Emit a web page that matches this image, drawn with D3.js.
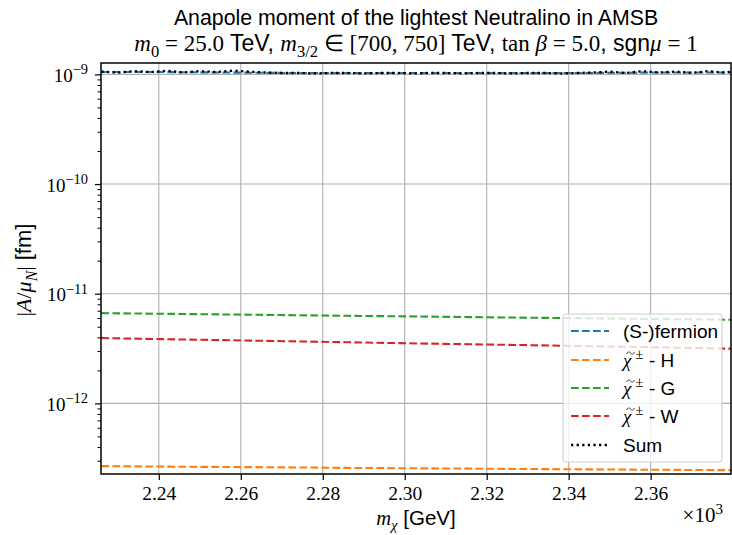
<!DOCTYPE html>
<html>
<head>
<meta charset="utf-8">
<script src="https://cdn.jsdelivr.net/npm/d3@7"></script>
<style>
  body { margin: 0; background: #fff; }
  text { white-space: pre; }
</style>
</head>
<body>
<svg id="chart" width="732" height="535"></svg>
<script>
// smooth contributions, sampled on a coarse grid (GeV)
const mChi = [2226, 2241, 2256, 2271, 2286, 2301, 2316, 2331, 2346, 2361, 2380];
const fermion = [1.05e-9, 1.05e-9, 1.04e-9, 1.03e-9, 1.03e-9, 1.03e-9, 1.03e-9, 1.03e-9, 1.03e-9, 1.04e-9, 1.04e-9];
const charginoH = [2.68e-13, 2.65e-13, 2.63e-13, 2.61e-13, 2.58e-13, 2.56e-13, 2.54e-13, 2.52e-13, 2.50e-13, 2.48e-13, 2.46e-13];
const charginoG = [6.65e-12, 6.56e-12, 6.47e-12, 6.38e-12, 6.29e-12, 6.21e-12, 6.12e-12, 6.04e-12, 5.96e-12, 5.88e-12, 5.78e-12];
const charginoW = [3.94e-12, 3.85e-12, 3.77e-12, 3.69e-12, 3.61e-12, 3.53e-12, 3.46e-12, 3.39e-12, 3.32e-12, 3.25e-12, 3.15e-12];

// the sum is noisier, finer grid
const sumMChi = [2226, 2230, 2234, 2238, 2242, 2246, 2250, 2254, 2258, 2262,
                 2266, 2270, 2274, 2278, 2282, 2286, 2290, 2294, 2298, 2302,
                 2306, 2310, 2314, 2318, 2322, 2326, 2330, 2334, 2338, 2342,
                 2346, 2350, 2354, 2358, 2362, 2366, 2370, 2374, 2378, 2380];
const sumVals = [1.06e-9, 1.04e-9, 1.07e-9, 1.05e-9, 1.08e-9, 1.04e-9, 1.07e-9, 1.05e-9, 1.08e-9, 1.06e-9,
                 1.04e-9, 1.03e-9, 1.03e-9, 1.02e-9, 1.03e-9, 1.03e-9, 1.02e-9, 1.03e-9, 1.03e-9, 1.02e-9,
                 1.03e-9, 1.03e-9, 1.02e-9, 1.03e-9, 1.03e-9, 1.02e-9, 1.03e-9, 1.03e-9, 1.02e-9, 1.03e-9,
                 1.04e-9, 1.06e-9, 1.03e-9, 1.07e-9, 1.04e-9, 1.06e-9, 1.03e-9, 1.07e-9, 1.04e-9, 1.06e-9];

const xTicks = [2240, 2260, 2280, 2300, 2320, 2340, 2360];
const yTicks = [1e-12, 1e-11, 1e-10, 1e-9];
const yTickExp = ["\u221212", "\u221211", "\u221210", "\u22129"];

const RM = "'Liberation Serif', serif";
const SF = "'Liberation Sans', sans-serif";

window.addEventListener('load', () => {
    draw()
})

// parts: [text, font, pos, dx]  font: rm | it | sf, pos: '' | sub | sup
function richText(sel, parts, size, supScale) {
    let shift = 0;
    const sc = supScale || 0.72;
    parts.forEach(p => {
        const pos = p[2] || '';
        let target = 0;
        if (pos === 'sub') target = 0.25 * size;
        if (pos === 'sup') target = -0.4 * size;
        const ts = sel.append('tspan')
            .attr('dy', target - shift)
            .attr('font-family', p[1] === 'sf' ? SF : RM)
            .attr('font-style', p[1] === 'it' ? 'italic' : 'normal')
            .attr('font-size', pos ? size * sc : size)
            .text(p[0]);
        if (p[3]) ts.attr('dx', p[3]);
        shift = target;
    });
}

function draw() {
    const svg = d3.select('#chart');
    const left = 101, right = 731, top = 63, bottom = 474;

    const x = d3.scaleLinear().domain([2225.9, 2379.6]).range([left, right]);
    const y = d3.scaleLog().domain([2.27e-13, 1.27e-9]).range([bottom, top]);

    svg.append('clipPath').attr('id', 'clip')
        .append('rect').attr('x', left).attr('y', top)
        .attr('width', right - left).attr('height', bottom - top);

    // grid
    const grid = svg.append('g').attr('stroke', '#b0b0b0').attr('stroke-width', 1.1);
    xTicks.forEach(t => {
        grid.append('line').attr('x1', x(t)).attr('x2', x(t)).attr('y1', top).attr('y2', bottom);
    });
    yTicks.forEach(t => {
        grid.append('line').attr('x1', left).attr('x2', right).attr('y1', y(t)).attr('y2', y(t));
    });

    // lines
    const series = [
        {xs: mChi, ys: fermion, color: '#1f77b4', dash: '7.7,3.3', w: 2.1},
        {xs: mChi, ys: charginoH, color: '#ff7f0e', dash: '7.7,3.3', w: 2.1},
        {xs: mChi, ys: charginoG, color: '#2ca02c', dash: '7.7,3.3', w: 2.1},
        {xs: mChi, ys: charginoW, color: '#d62728', dash: '7.7,3.3', w: 2.1},
        {xs: sumMChi, ys: sumVals, color: '#000', dash: '2.3,3.3', w: 2.3}
    ];
    const line = d3.line().x(d => x(d[0])).y(d => y(d[1]));
    const plot = svg.append('g').attr('clip-path', 'url(#clip)');
    series.forEach(s => {
        plot.append('path')
            .attr('d', line(s.xs.map((v, i) => [v, s.ys[i]])))
            .attr('fill', 'none')
            .attr('stroke', s.color)
            .attr('stroke-width', s.w)
            .attr('stroke-dasharray', s.dash);
    });

    // axes
    const xAxis = svg.append('g').attr('transform', `translate(0,${bottom})`)
        .call(d3.axisBottom(x).tickValues(xTicks).tickSize(6).tickPadding(6)
            .tickFormat(d => (d / 1000).toFixed(2)));
    xAxis.select('.domain').remove();
    xAxis.selectAll('line').attr('stroke-width', 1.2);
    xAxis.selectAll('text').attr('font-family', RM).attr('font-size', 19.5).attr('fill', '#000');

    const minor = [];
    for (let e = -13; e <= -9; e++) {
        for (let k = 2; k <= 9; k++) {
            const v = k * Math.pow(10, e);
            if (v >= 2.27e-13 && v <= 1.27e-9) minor.push(v);
        }
    }
    const yMinor = svg.append('g').attr('transform', `translate(${left},0)`)
        .call(d3.axisLeft(y).tickValues(minor).tickSize(3.5).tickFormat(''));
    yMinor.select('.domain').remove();
    yMinor.selectAll('line').attr('stroke-width', 1);

    const yAxis = svg.append('g').attr('transform', `translate(${left},0)`)
        .call(d3.axisLeft(y).tickValues(yTicks).tickSize(6).tickFormat(''));
    yAxis.select('.domain').remove();
    yAxis.selectAll('line').attr('stroke-width', 1.2);
    yTicks.forEach((t, i) => {
        const tx = svg.append('text').attr('x', left - 13).attr('y', y(t) + 7.5)
            .attr('text-anchor', 'end').attr('fill', '#000');
        richText(tx, [['10', 'rm'], [yTickExp[i], 'rm', 'sup']], 19, 0.76);
    });

    // frame
    svg.append('rect').attr('x', left).attr('y', top)
        .attr('width', right - left).attr('height', bottom - top)
        .attr('fill', 'none').attr('stroke', '#000').attr('stroke-width', 1.5);

    // titles
    const mid = (left + right) / 2;
    svg.append('text').attr('x', mid).attr('y', 25).attr('text-anchor', 'middle')
        .attr('font-family', SF).attr('font-size', 21.3).text('Anapole moment of the lightest Neutralino in AMSB');
    const t2 = svg.append('text').attr('x', mid).attr('y', 51).attr('text-anchor', 'middle');
    richText(t2, [
        ['m', 'it'], ['0', 'rm', 'sub'], [' = 25.0', 'rm'], [' TeV, ', 'sf'],
        ['m', 'it'], ['3/2', 'rm', 'sub'], [' \u2208 [700, 750]', 'rm'], [' TeV, ', 'sf'],
        ['tan ', 'rm'], ['\u03b2', 'it'], [' = 5.0', 'rm'], [', sgn', 'sf'],
        ['\u03bc', 'it'], [' = 1', 'rm']
    ], 23);

    const xl = svg.append('text').attr('x', mid).attr('y', 525).attr('text-anchor', 'middle');
    richText(xl, [['m', 'it'], ['\u03c7', 'it', 'sub'], [' [GeV]', 'sf']], 20.5);

    const ex = svg.append('text').attr('x', 723).attr('y', 522).attr('text-anchor', 'end');
    richText(ex, [['\u00d710', 'rm'], ['3', 'rm', 'sup']], 21);

    const yl = svg.append('text').attr('transform', 'translate(31,270) rotate(-90)')
        .attr('text-anchor', 'middle');
    richText(yl, [['|', 'rm'], ['A', 'it'], ['/', 'rm'], ['\u03bc', 'it'], ['N', 'it', 'sub'], ['|', 'rm'], [' [fm]', 'sf']], 22);

    // legend
    const lg = svg.append('g');
    lg.append('rect').attr('x', 563).attr('y', 314).attr('width', 159).attr('height', 148)
        .attr('rx', 3).attr('fill', 'rgba(255,255,255,0.8)').attr('stroke', '#cccccc').attr('stroke-width', 1);
    const entries = [
        [['(S-)fermion', 'sf']],
        [['\u03c7', 'it'], ['\u00b1', 'rm', 'sup', 4], [' - H', 'sf']],
        [['\u03c7', 'it'], ['\u00b1', 'rm', 'sup', 4], [' - G', 'sf']],
        [['\u03c7', 'it'], ['\u00b1', 'rm', 'sup', 4], [' - W', 'sf']],
        [['Sum', 'sf']]
    ];
    const rowY = [331, 360, 388, 416, 445];
    series.forEach((s, i) => {
        lg.append('line').attr('x1', 571).attr('x2', 609).attr('y1', rowY[i]).attr('y2', rowY[i])
            .attr('stroke', s.color).attr('stroke-width', s.w).attr('stroke-dasharray', s.dash);
        const t = lg.append('text').attr('x', 623).attr('y', rowY[i] + 6.5);
        richText(t, entries[i], 19, 0.8);
        if (i >= 1 && i <= 3) {
            // tilde accent over chi
            const cx = 630.5, cy = rowY[i] - 7;
            lg.append('path')
                .attr('d', `M${cx - 4},${cy + 1} C${cx - 2.5},${cy - 2} ${cx - 1},${cy - 1} ${cx},${cy} S${cx + 2.5},${cy + 2} ${cx + 4},${cy - 1}`)
                .attr('fill', 'none').attr('stroke', '#222').attr('stroke-width', 0.9);
        }
    });
}
</script>
</body>
</html>
